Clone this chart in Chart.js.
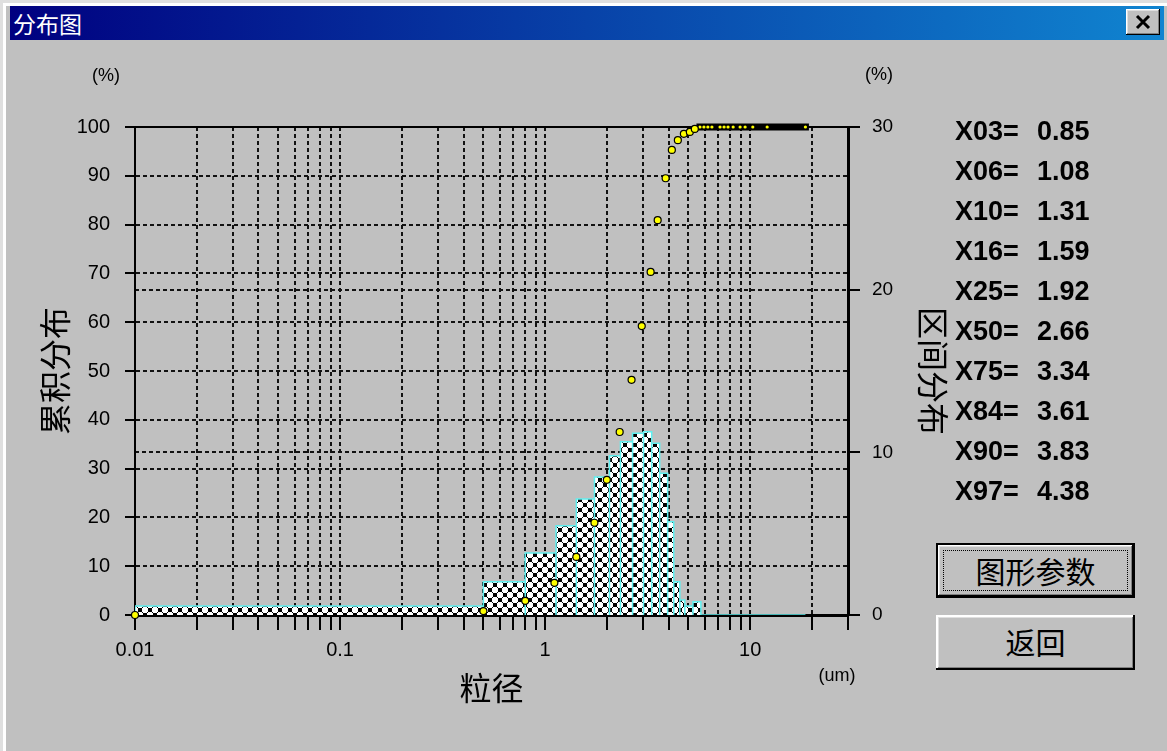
<!DOCTYPE html>
<html lang="zh-CN">
<head>
<meta charset="utf-8">
<title>分布图</title>
<script src="https://cdn.jsdelivr.net/npm/chart.js@4.4.1/dist/chart.umd.min.js"></script>
<style>
  html, body { margin: 0; padding: 0; }
  body {
    width: 1167px; height: 751px; overflow: hidden; position: relative;
    background: #c0c0c0;
    font-family: "Liberation Sans", Arial, sans-serif;
  }
  .frame {
    position: absolute; left: 0; top: 0; width: 1167px; height: 751px;
    box-sizing: border-box;
    border-left: 3px solid #dfdfdf; border-top: 3px solid #dfdfdf;
  }
  .frame-inner {
    position: absolute; left: 0; top: 0; right: 0; bottom: 0;
    border-left: 3px solid #fff; border-top: 3px solid #fff;
  }
  .titlebar {
    position: absolute; left: 10px; top: 6px; width: 1154px; height: 34px;
    background: linear-gradient(to right, #000080, #1084d0);
  }
  .titlebar .title {
    position: absolute; left: 3px; top: 2px;
    color: #fff; font-family: "Noto Sans CJK SC"; font-size: 23px; line-height: 30px;
  }
  .close {
    position: absolute; right: 4px; top: 3px; width: 34px; height: 26px;
    background: #c0c0c0;
    box-shadow: inset -1px -1px #000, inset 1px 1px #fff, inset -2px -2px #808080, inset 2px 2px #dfdfdf;
  }
  .close svg { position: absolute; left: 9px; top: 5px; }
  #chart { position: absolute; left: 0; top: 0; }
  .unit {
    position: absolute; font-size: 18px; line-height: 20px; color: #000;
    transform: translateX(-50%);
  }
  .stats { position: absolute; left: 955px; top: 116px; }
  .stat-row {
    position: relative; height: 40px; line-height: 30px;
    font-size: 27px; font-weight: bold; color: #000;
  }
  .stat-row .val { position: absolute; left: 82px; top: 0; }
  .btn {
    position: absolute; left: 936px; width: 199px; height: 55px; box-sizing: border-box;
    background: #c0c0c0; color: #000;
    font-family: "Noto Sans CJK SC"; font-size: 30px; line-height: 53px; text-align: center;
    box-shadow: inset -2px -2px #000, inset 2px 2px #fff, inset -3px -3px #808080, inset 3px 3px #dfdfdf;
  }
  .btn.default {
    border: 2px solid #000; line-height: 50px;
    box-shadow: inset -1px -1px #000, inset 1px 1px #fff, inset -2px -2px #808080, inset 2px 2px #dfdfdf;
  }
  .btn.default .focus {
    position: absolute; left: 5px; top: 5px; right: 5px; bottom: 5px;
    border: 1px dotted #000;
  }
</style>
</head>
<body>
<div class="frame"><div class="frame-inner"></div></div>
<div class="titlebar">
  <div class="title">分布图</div>
  <div class="close">
    <svg width="16" height="16" viewBox="0 0 16 16">
      <path d="M2 2 L14 14 M14 2 L2 14" stroke="#000" stroke-width="3"/>
    </svg>
  </div>
</div>

<canvas id="chart" width="1167" height="751"></canvas>

<div class="unit" style="left:106px; top:65px;">(%)</div>
<div class="unit" style="left:879px; top:64px;">(%)</div>
<div class="unit" style="left:837px; top:665px;">(um)</div>

<div class="stats" id="stats"></div>

<div class="btn default" style="top:543px;"><div class="focus"></div>图形参数</div>
<div class="btn" style="top:615px;">返回</div>

<script>
// ============================================================
// 数据
// ============================================================

// 区间分布（直方图）：区间边界 (um) 与各区间百分比
const binEdges = [0.01, 0.5, 0.8, 1.13, 1.42, 1.74, 2.06, 2.33, 2.67, 3.02, 3.31,
                  3.62, 3.96, 4.24, 4.54, 4.80, 5.26, 5.75, 18.6];
const binHeights = [0.55, 2.05, 3.81, 5.49, 7.13, 8.48, 9.79, 10.65, 11.17, 11.27,
                    10.56, 8.71, 5.73, 2.05, 0.92, 0.55, 0.82, 0];

// 累积分布：粒径 (um) 与累积百分比
const cumSizes = [0.01, 0.5, 0.8, 1.11, 1.42, 1.74, 2.0, 2.31, 2.64, 2.96, 3.27,
                  3.54, 3.87, 4.15, 4.44, 4.75, 5.08, 5.37];
const cumPercent = [0, 0.8, 2.9, 6.6, 11.9, 18.9, 27.7, 37.5, 48.2, 59.2, 70.3,
                    80.9, 89.5, 95.3, 97.3, 98.6, 99.0, 99.6];

// 累积达到 100% 之后的点
const fullSizes = [5.69, 5.95, 6.22, 6.51, 7.13, 7.46, 7.80, 8.26, 8.93, 9.45, 10.3, 12.1, 18.6];
const fullPercent = [100, 100, 100, 100, 100, 100, 100, 100, 100, 100, 100, 100, 100];

// 坐标轴刻度
const xTicks = [0.01, 0.02, 0.03, 0.04, 0.05, 0.06, 0.07, 0.08, 0.09,
                0.1, 0.2, 0.3, 0.4, 0.5, 0.6, 0.7, 0.8, 0.9,
                1, 2, 3, 4, 5, 6, 7, 8, 9,
                10, 20, 30];
const xLabelValues = [0.01, 0.1, 1, 10];
const xLabelTexts = ['0.01', '0.1', '1', '10'];

// 特征粒径
const statNames = ['X03', 'X06', 'X10', 'X16', 'X25', 'X50', 'X75', 'X84', 'X90', 'X97'];
const statValues = ['0.85', '1.08', '1.31', '1.59', '1.92', '2.66', '3.34', '3.61', '3.83', '4.38'];

// ============================================================
// 工具函数
// ============================================================

/**
 * 生成交叉网纹填充
 *
 * @returns {CanvasPattern} 图案
 */
function makeHatch() {
  const size = 10;
  const c = document.createElement('canvas');
  c.width = size;
  c.height = size;
  const g = c.getContext('2d');
  g.fillStyle = '#fff';
  g.fillRect(0, 0, size, size);
  g.fillStyle = '#000';
  for (let i = 0; i < size; i++) {
    g.fillRect(i, i, 1, 1);
    g.fillRect(size - 1 - i, i, 1, 1);
  }
  // 交叉点加粗
  g.fillRect(3, 4, 4, 2);
  g.fillRect(4, 3, 2, 4);
  [[8, 9], [8, 0], [1, 9], [1, 0], [9, 8], [0, 8], [9, 1], [0, 1]].forEach(p => g.fillRect(p[0], p[1], 1, 1));
  return g.createPattern(c, 'repeat');
}

/**
 * 把区间数据展开成阶梯轮廓
 *
 * @returns {Array<object>} 点序列
 */
function histogramOutline() {
  const pts = [{ x: binEdges[0], y: 0 }];
  for (let i = 0; i < binHeights.length; i++) {
    const lo = binEdges[i];
    const hi = binEdges[i + 1];
    pts.push({ x: lo, y: binHeights[i] });
    pts.push({ x: hi, y: binHeights[i] });
    pts.push({ x: hi, y: 0 });
  }
  return pts;
}

/**
 * 渲染右侧特征粒径列表
 */
function renderStats() {
  const box = document.getElementById('stats');
  box.innerHTML = statNames.map((name, i) => `
    <div class="stat-row">${name}=<span class="val">${statValues[i]}</span></div>
  `).join('');
}

// 图表上边框
const topBorder = {
  id: 'topBorder',
  beforeDatasetsDraw(chart) {
    const { ctx, chartArea } = chart;
    ctx.save();
    ctx.strokeStyle = '#000';
    ctx.lineWidth = 2;
    ctx.beginPath();
    ctx.moveTo(chartArea.left, chartArea.top);
    ctx.lineTo(chartArea.right, chartArea.top);
    ctx.stroke();
    ctx.restore();
  }
};

// ============================================================
// 图表
// ============================================================

const tickFont = { family: '"Liberation Sans", Arial, sans-serif', size: 20 };
const titleFont = { family: '"Noto Sans CJK SC", sans-serif', size: 32, lineHeight: 1 };
const gridDash = [4, 3];

function drawChart() {
  const ctx = document.getElementById('chart').getContext('2d');

  new Chart(ctx, {
    type: 'line',
    data: {
      datasets: [
        {
          label: '累积分布',
          data: cumSizes.map((x, i) => ({ x: x, y: cumPercent[i] })),
          yAxisID: 'y',
          showLine: false,
          pointRadius: 3.5,
          pointBackgroundColor: '#ffff00',
          pointBorderColor: '#000',
          pointBorderWidth: 1.2,
          clip: false
        },
        {
          label: '累积分布 100%',
          data: fullSizes.map((x, i) => ({ x: x, y: fullPercent[i] })),
          yAxisID: 'y',
          showLine: true,
          borderColor: '#000',
          borderWidth: 7,
          borderCapStyle: 'square',
          pointRadius: 1.6,
          pointBackgroundColor: '#ffff00',
          pointBorderWidth: 0,
          clip: false
        },
        {
          label: '区间分布',
          data: histogramOutline(),
          yAxisID: 'y1',
          borderColor: '#5ff0f0',
          borderWidth: 1.5,
          backgroundColor: makeHatch(),
          fill: 'origin',
          tension: 0,
          pointRadius: 0
        }
      ]
    },
    options: {
      responsive: false,
      animation: false,
      events: [],
      layout: { padding: { left: 20, right: 214, top: 127, bottom: 41 } },
      plugins: {
        legend: { display: false },
        tooltip: { enabled: false }
      },
      scales: {
        x: {
          type: 'logarithmic',
          min: 0.01,
          max: 30,
          afterBuildTicks: scale => {
            scale.ticks = xTicks.map(v => ({ value: v }));
          },
          afterFit: scale => { scale.height = 95; },
          ticks: {
            autoSkip: false,
            maxRotation: 0,
            padding: 8,
            color: '#000',
            font: tickFont,
            callback: value => {
              const k = xLabelValues.indexOf(value);
              return k >= 0 ? xLabelTexts[k] : '';
            }
          },
          grid: {
            color: '#111',
            lineWidth: 2,
            tickLength: 15,
            tickWidth: 2,
            tickColor: '#000',
            tickBorderDash: []
          },
          border: { display: true, color: '#000', width: 3, dash: gridDash },
          title: {
            display: true,
            text: '粒径',
            color: '#000',
            font: titleFont,
            padding: { top: 0, bottom: 6 }
          }
        },
        y: {
          position: 'left',
          min: 0,
          max: 100,
          afterFit: scale => { scale.width = 115; },
          ticks: { stepSize: 10, padding: 15, color: '#000', font: tickFont },
          grid: {
            color: '#111',
            lineWidth: 2,
            tickLength: 10,
            tickWidth: 2,
            tickColor: '#000',
            tickBorderDash: []
          },
          border: { display: true, color: '#000', width: 2, dash: gridDash },
          title: {
            display: true,
            text: '累积分布',
            color: '#000',
            font: titleFont,
            padding: { top: 19, bottom: 0 }
          }
        },
        y1: {
          position: 'right',
          min: 0,
          max: 30,
          afterFit: scale => { scale.width = 105; },
          ticks: { stepSize: 10, padding: 12, color: '#000', font: { family: tickFont.family, size: 19 } },
          grid: {
            color: '#111',
            lineWidth: 2,
            tickLength: 12,
            tickWidth: 2,
            tickColor: '#000',
            tickBorderDash: []
          },
          border: { display: true, color: '#000', width: 3, dash: gridDash },
          title: {
            display: true,
            text: '区间分布',
            color: '#000',
            font: titleFont,
            padding: { top: 4, bottom: 0 }
          }
        }
      }
    },
    plugins: [topBorder]
  });
}

// ============================================================
// 初始化
// ============================================================

renderStats();
drawChart();
</script>
</body>
</html>
